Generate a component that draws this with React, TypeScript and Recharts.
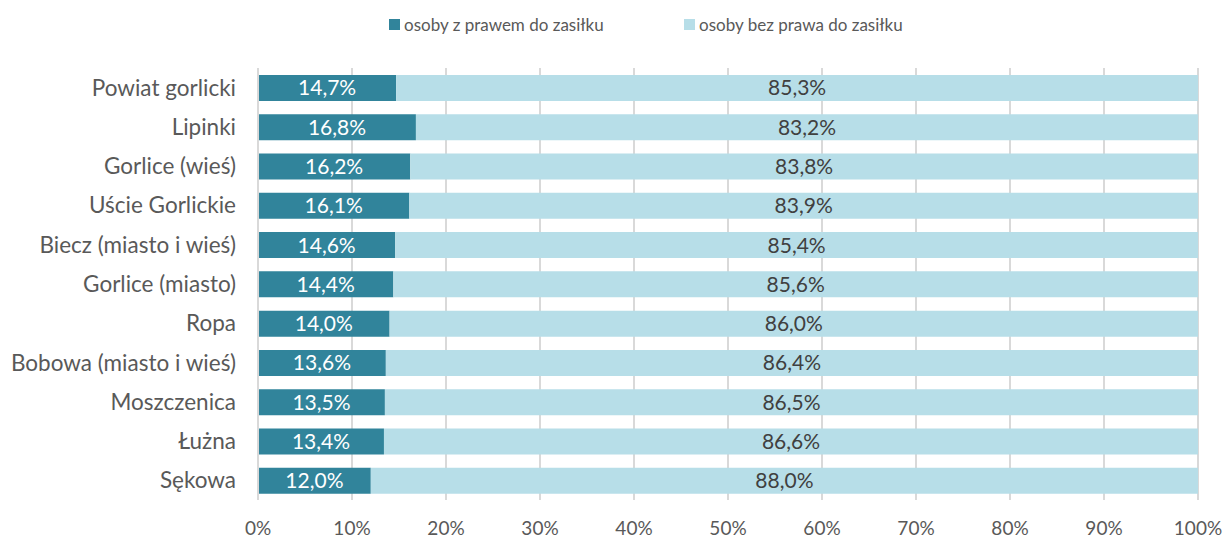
import React from 'react';
import { BarChart, Bar, XAxis, YAxis, CartesianGrid, Legend, LabelList } from 'recharts';

const categories = ['Powiat gorlicki', 'Lipinki', 'Gorlice (wieś)', 'Uście Gorlickie', 'Biecz (miasto i wieś)', 'Gorlice (miasto)', 'Ropa', 'Bobowa (miasto i wieś)', 'Moszczenica', 'Łużna', 'Sękowa'];
const withRight = [14.7, 16.8, 16.2, 16.1, 14.6, 14.4, 14.0, 13.6, 13.5, 13.4, 12.0];
const withoutRight = [85.3, 83.2, 83.8, 83.9, 85.4, 85.6, 86.0, 86.4, 86.5, 86.6, 88.0];
const seriesNames = ['osoby z prawem do zasiłku', 'osoby bez prawa do zasiłku'];
const xTicks = [0, 10, 20, 30, 40, 50, 60, 70, 80, 90, 100];

const data = categories.map((name, i) => ({ name, a: withRight[i], b: withoutRight[i] }));

const FONT = 'Lato, "Open Sans", sans-serif';
const DARK = '#31849B';
const LIGHT = '#B7DEE8';

const fmt = (v: any) => `${Number(v).toFixed(1).replace('.', ',')}%`;

const LegendContent = () => (
  <div style={{ position: 'relative', height: 40, fontFamily: FONT, fontSize: 17, color: '#595959' }}>
    <div style={{ position: 'absolute', left: 389, top: 14, display: 'flex', alignItems: 'center' }}>
      <span style={{ width: 11, height: 11, background: DARK, display: 'inline-block', marginRight: 4 }} />
      <span>{seriesNames[0]}</span>
    </div>
    <div style={{ position: 'absolute', left: 684, top: 14, display: 'flex', alignItems: 'center' }}>
      <span style={{ width: 11, height: 11, background: LIGHT, display: 'inline-block', marginRight: 4 }} />
      <span>{seriesNames[1]}</span>
    </div>
  </div>
);

export default function App() {
  return (
    <div style={{ position: 'absolute', left: 0, top: 0, background: '#fff' }}>
      <BarChart
        width={1227}
        height={539}
        data={data}
        layout="vertical"
        margin={{ top: 28, right: 29, left: 0, bottom: 0 }}
        barSize={26}
      >
        <CartesianGrid horizontal={false} stroke="#d9d9d9" strokeWidth={2} />
        <XAxis
          type="number"
          domain={[0, 100]}
          ticks={xTicks}
          tickFormatter={(v) => `${v}%`}
          axisLine={false}
          tickLine={false}
          height={39}
          tickMargin={16}
          interval={0}
          tick={{ fill: '#595959', fontSize: 19, fontFamily: FONT }}
        />
        <YAxis
          type="category"
          dataKey="name"
          width={258}
          axisLine={{ stroke: '#d9d9d9', strokeWidth: 2 }}
          tickLine={false}
          tickSize={0}
          tickMargin={22}
          interval={0}
          tick={{ fill: '#595959', fontSize: 22.5, fontFamily: FONT }}
        />
        <Legend verticalAlign="top" align="left" content={<LegendContent />} wrapperStyle={{ top: 0, left: 0, width: 1227, height: 40 }} />
        <Bar dataKey="a" stackId="s" fill={DARK} name={seriesNames[0]} isAnimationActive={false}>
          <LabelList dataKey="a" position="center" formatter={fmt} fill="#ffffff" style={{ fontSize: 21, fontFamily: FONT }} />
        </Bar>
        <Bar dataKey="b" stackId="s" fill={LIGHT} name={seriesNames[1]} isAnimationActive={false}>
          <LabelList dataKey="b" position="center" formatter={fmt} fill="#404040" style={{ fontSize: 21, fontFamily: FONT }} />
        </Bar>
      </BarChart>
    </div>
  );
}
